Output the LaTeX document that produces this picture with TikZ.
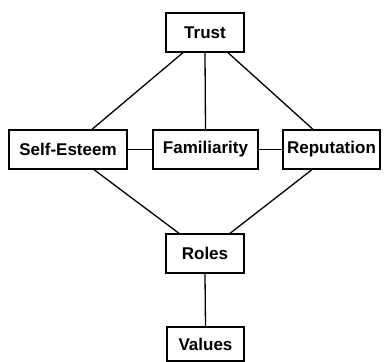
\documentclass[tikz,border=0pt]{standalone}
\usepackage{fontspec}
\setmainfont{Liberation Sans}
\usetikzlibrary{calc}
\begin{document}
\begin{tikzpicture}[x=1pt,y=-1pt,
  box/.style={draw, line width=1.3pt, inner sep=0pt, minimum height=39pt, font=\fontsize{17}{20}\selectfont\bfseries},
  link/.style={line width=1.3pt}]
\useasboundingbox (0,0) rectangle (384,362);
\node[box, minimum width=78pt] (T) at (205,32.5) {Trust};
\node[box, minimum width=118pt] (S) at (68,149.5) {Self-Esteem};
\node[box, minimum width=105pt] (F) at (205.5,149.5) {Familiarity};
\node[box, minimum width=97pt] (R) at (331.5,149.5) {Reputation};
\node[box, minimum width=78pt] (O) at (205,253.5) {Roles};
\node[box, minimum width=77pt, minimum height=34pt] (V) at (205.5,344) {Values};
\draw[link] ($(T.south)+(-22,0)$) -- ($(S.north)+(24,0)$);
\draw[link] (T.south) -- (F.north);
\draw[link] ($(T.south)+(23,0)$) -- ($(R.north)+(-18.5,0)$);
\draw[link] (S.east) -- (F.west);
\draw[link] (F.east) -- (R.west);
\draw[link] ($(S.south)+(26,0)$) -- ($(O.north)+(-26,0)$);
\draw[link] ($(R.south)+(-19.5,0)$) -- ($(O.north)+(25,0)$);
\draw[link] (O.south) -- (V.north);
\end{tikzpicture}
\end{document}
